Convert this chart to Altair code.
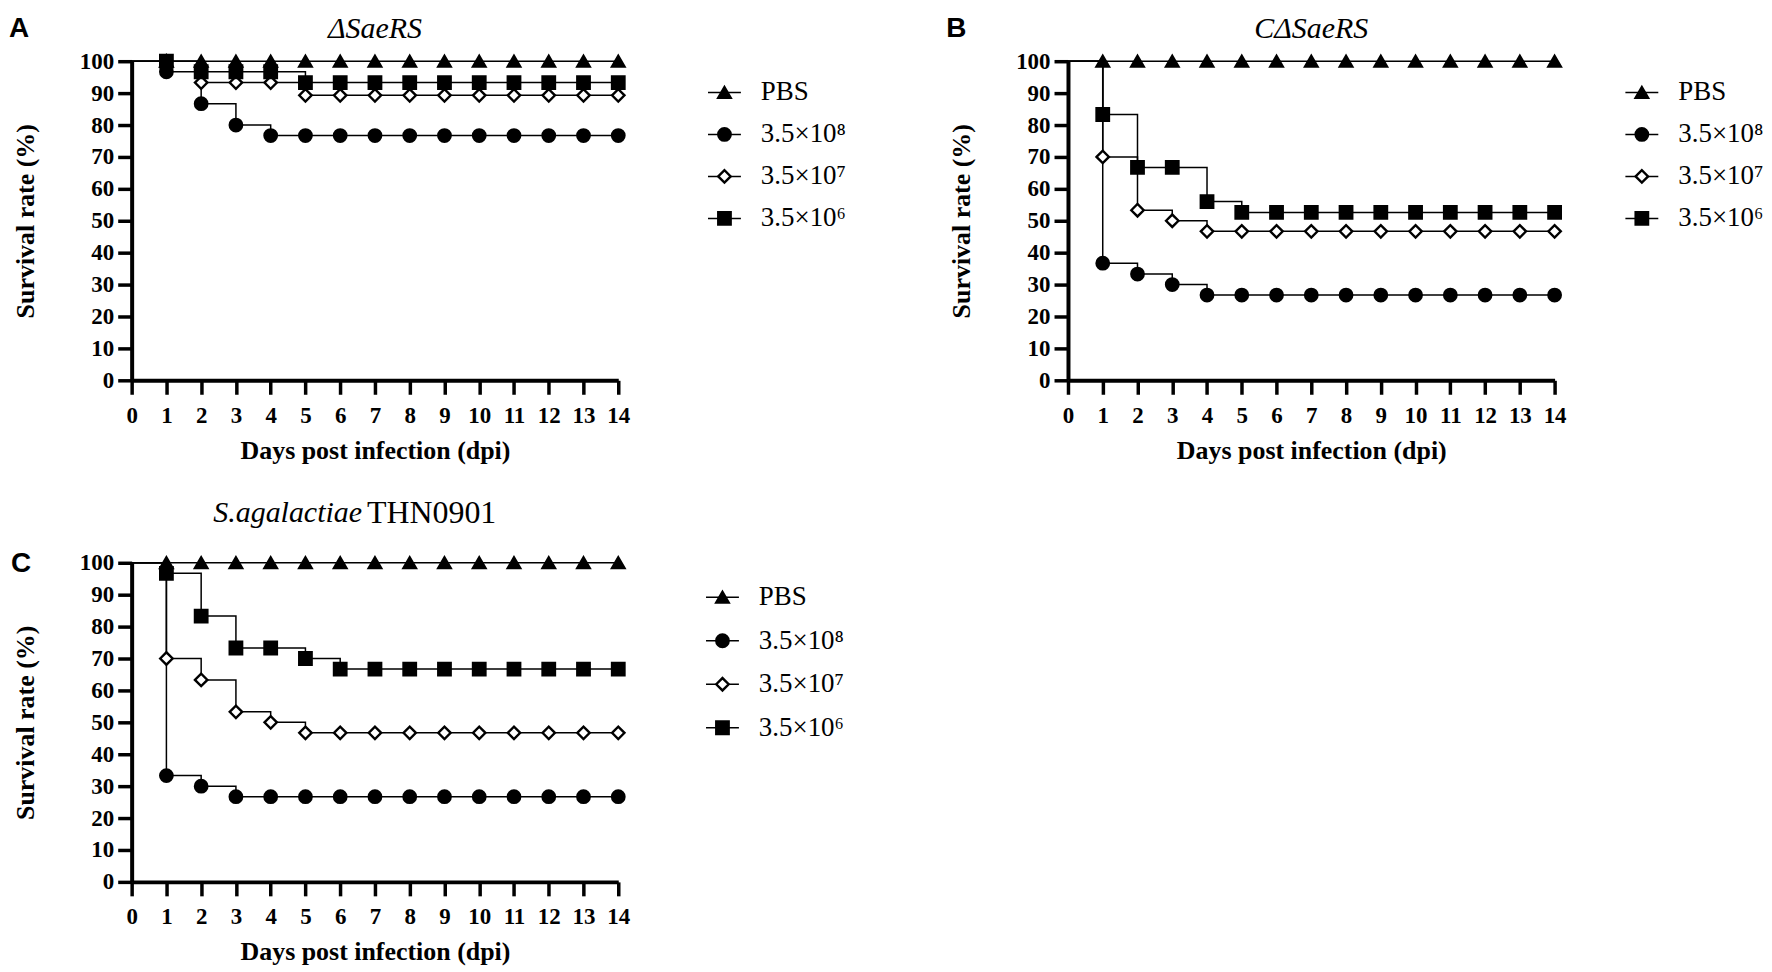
import altair as alt
import pandas as pd

days = [0, 1, 2, 3, 4, 5, 6, 7, 8, 9, 10, 11, 12, 13, 14]
groups = ["PBS", "3.5×10⁸", "3.5×10⁷", "3.5×10⁶"]
shapes = ["triangle-up", "circle", "diamond", "square"]
fills = ["black", "black", "white", "black"]
y_ticks = [0, 10, 20, 30, 40, 50, 60, 70, 80, 90, 100]

# panel A: ΔSaeRS
a_pbs = [100, 100, 100, 100, 100, 100, 100, 100, 100, 100, 100, 100, 100, 100, 100]
a_e8 = [100, 96.7, 86.7, 80.0, 76.7, 76.7, 76.7, 76.7, 76.7, 76.7, 76.7, 76.7, 76.7, 76.7, 76.7]
a_e7 = [100, 100, 93.3, 93.3, 93.3, 89.3, 89.3, 89.3, 89.3, 89.3, 89.3, 89.3, 89.3, 89.3, 89.3]
a_e6 = [100, 100, 96.7, 96.7, 96.7, 93.3, 93.3, 93.3, 93.3, 93.3, 93.3, 93.3, 93.3, 93.3, 93.3]

# panel B: CΔSaeRS
b_pbs = [100, 100, 100, 100, 100, 100, 100, 100, 100, 100, 100, 100, 100, 100, 100]
b_e8 = [100, 36.7, 33.3, 30.0, 26.7, 26.7, 26.7, 26.7, 26.7, 26.7, 26.7, 26.7, 26.7, 26.7, 26.7]
b_e7 = [100, 70.0, 53.3, 50.0, 46.7, 46.7, 46.7, 46.7, 46.7, 46.7, 46.7, 46.7, 46.7, 46.7, 46.7]
b_e6 = [100, 83.3, 66.7, 66.7, 56.0, 52.6, 52.6, 52.6, 52.6, 52.6, 52.6, 52.6, 52.6, 52.6, 52.6]

# panel C: S.agalactiae THN0901
c_pbs = [100, 100, 100, 100, 100, 100, 100, 100, 100, 100, 100, 100, 100, 100, 100]
c_e8 = [100, 33.3, 30.0, 26.7, 26.7, 26.7, 26.7, 26.7, 26.7, 26.7, 26.7, 26.7, 26.7, 26.7, 26.7]
c_e7 = [100, 70.0, 63.3, 53.3, 50.0, 46.7, 46.7, 46.7, 46.7, 46.7, 46.7, 46.7, 46.7, 46.7, 46.7]
c_e6 = [100, 96.7, 83.3, 73.3, 73.3, 70.0, 66.7, 66.7, 66.7, 66.7, 66.7, 66.7, 66.7, 66.7, 66.7]

SERIF = "Liberation Serif"
W, H = 488, 320


def to_frame(series):
    rows = []
    for g, vals in zip(groups, series):
        for d, v in zip(days, vals):
            rows.append({"group": g, "day": d, "rate": v})
    return pd.DataFrame(rows)


def text_layer(txt, x, y, size, font=SERIF, style="normal", weight="normal", align="center"):
    return alt.Chart(pd.DataFrame({"t": [txt]})).mark_text(
        font=font, fontSize=size, fontStyle=style, fontWeight=weight,
        align=align, baseline="middle", color="black"
    ).encode(text="t:N", x=alt.value(x), y=alt.value(y))


def panel(series, letter, letter_x, letter_y, titles):
    df = to_frame(series)
    base = alt.Chart(df).encode(
        x=alt.X("day:Q", scale=alt.Scale(domain=[0, 14], nice=False),
                axis=alt.Axis(values=days, title="Days post infection (dpi)",
                              labelOverlap=False, labelFlush=False,
                              labelPadding=10, titlePadding=10)),
        y=alt.Y("rate:Q", scale=alt.Scale(domain=[0, 100], nice=False),
                axis=alt.Axis(values=y_ticks, title="Survival rate (%)",
                              labelPadding=4, titlePadding=41)),
    )
    lines = base.mark_line(interpolate="step-after", color="black", strokeWidth=1.5).encode(
        detail="group:N", order="day:Q")
    pts = base.transform_filter("datum.day > 0").mark_point(
        filled=True, size=155, opacity=1, stroke="black", strokeWidth=2.4
    ).encode(
        shape=alt.Shape("group:N", scale=alt.Scale(domain=groups, range=shapes), legend=None),
        fill=alt.Fill("group:N", scale=alt.Scale(domain=groups, range=fills), legend=None),
    )
    layers = [lines, pts,
              text_layer(letter, letter_x, letter_y, 28, font="Liberation Sans", weight="bold")]
    layers += titles
    return alt.layer(*layers).properties(width=W, height=H)


def legend(pad, height):
    ldf = pd.DataFrame({"group": groups})
    y = alt.Y("group:N", sort=groups, axis=None, scale=alt.Scale(padding=pad))
    base = alt.Chart(ldf).encode(y=y)
    rule = base.mark_rule(color="black", strokeWidth=1.5).encode(x=alt.value(0), x2=alt.value(33))
    sym = base.mark_point(filled=True, size=155, opacity=1, stroke="black", strokeWidth=2.4).encode(
        x=alt.value(16.5),
        shape=alt.Shape("group:N", scale=alt.Scale(domain=groups, range=shapes), legend=None),
        fill=alt.Fill("group:N", scale=alt.Scale(domain=groups, range=fills), legend=None),
    )
    txt = base.mark_text(font=SERIF, fontSize=27, align="left", baseline="middle", color="black").encode(
        x=alt.value(53), text="group:N")
    return alt.layer(rule, sym, txt).properties(width=130, height=height)


pA = panel([a_pbs, a_e8, a_e7, a_e6], "A", -113, -32,
           [text_layer("ΔSaeRS", W / 2, -32, 30, style="italic")])
pB = panel([b_pbs, b_e8, b_e7, b_e6], "B", -112, -32,
           [text_layer("CΔSaeRS", W / 2, -32, 30, style="italic")])
pC = panel([c_pbs, c_e8, c_e7, c_e6], "C", -111, 1,
           [text_layer("S.agalactiae", 231, -50, 30, style="italic", align="right"),
            text_layer("THN0901", 236, -50, 32, align="left")])

row1 = alt.hconcat(
    alt.hconcat(pA, legend(0.49, 189), spacing=77),
    alt.hconcat(pB, legend(0.49, 189), spacing=58),
    spacing=99,
)
row2 = alt.hconcat(pC, legend(0.583, 200), spacing=75)

chart = alt.vconcat(row1, row2, spacing=34).properties(
    padding={"top": 5, "left": 0, "right": 0, "bottom": 0}
).configure_view(
    stroke=None
).configure_axis(
    grid=False,
    domainColor="black", domainWidth=4,
    tickColor="black", tickWidth=3.5, tickSize=14,
    labelFont=SERIF, labelFontWeight="bold", labelFontSize=23, labelColor="black",
    titleFont=SERIF, titleFontWeight="bold", titleFontSize=26, titleColor="black",
)

chart.save("out.html", embed_options={"renderer": "svg", "actions": False})
